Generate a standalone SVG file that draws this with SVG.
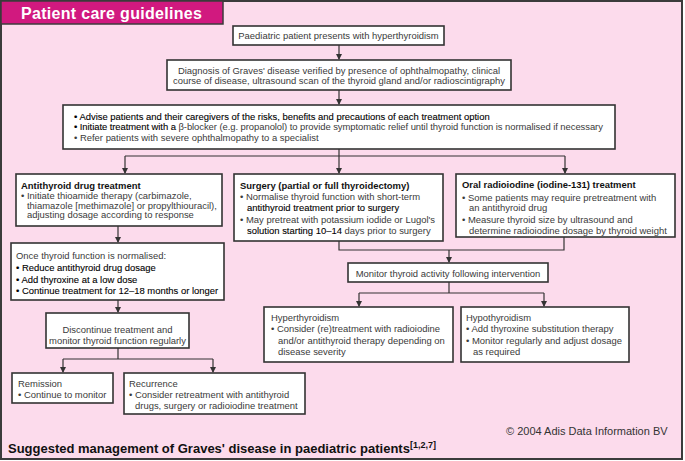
<svg xmlns="http://www.w3.org/2000/svg" width="685" height="461" viewBox="0 0 685 461">
<style>
text{font-family:"Liberation Sans",Arial,sans-serif;font-size:9.45px;fill:#3a3a3a}
.b{font-weight:bold;fill:#111}
.m{fill:#000;stroke:#000;stroke-width:0.1}
.c{text-anchor:middle}
.box{fill:#fff;stroke:#333;stroke-width:1.6}
.ln{fill:none;stroke:#333;stroke-width:1.2}
</style>
<defs>
<marker id="ah" markerUnits="userSpaceOnUse" markerWidth="6" markerHeight="6" refX="5" refY="3" orient="auto">
<path d="M0,0 L6,3 L0,6 Z" fill="#333"/>
</marker>
</defs>
<rect x="1" y="1" width="681" height="458" fill="#fcdbec" stroke="#3b3b3b" stroke-width="2"/>
<g id="title">
<rect x="1" y="1" width="222" height="23" fill="#d1197f" stroke="#3b3b3b" stroke-width="1.5"/>
<text x="21" y="18.5" style="font-size:16px;font-weight:bold;fill:#fff;letter-spacing:0.3px">Patient care guidelines</text>
</g>
<g id="connectors">
<path class="ln" d="M339,45 V59" marker-end="url(#ah)"/>
<path class="ln" d="M339,90 V104" marker-end="url(#ah)"/>
<path class="ln" d="M339,149 V173"  marker-end="url(#ah)"/>
<path class="ln" d="M125,156 H565"/>
<path class="ln" d="M125,156 V173" marker-end="url(#ah)"/>
<path class="ln" d="M565,156 V173" marker-end="url(#ah)"/>
<path class="ln" d="M118,226 V242" marker-end="url(#ah)"/>
<path class="ln" d="M339,241 V250 H564 V237"/>
<path class="ln" d="M449,250 V262" marker-end="url(#ah)"/>
<path class="ln" d="M449,282 V293"/>
<path class="ln" d="M359,293 H544"/>
<path class="ln" d="M359,293 V306" marker-end="url(#ah)"/>
<path class="ln" d="M544,293 V306" marker-end="url(#ah)"/>
<path class="ln" d="M118,300 V312" marker-end="url(#ah)"/>
<path class="ln" d="M118,348 V359"/>
<path class="ln" d="M63,359 H213"/>
<path class="ln" d="M63,359 V372" marker-end="url(#ah)"/>
<path class="ln" d="M213,359 V372" marker-end="url(#ah)"/>
</g>
<g id="n1">
<rect class="box" x="233" y="26" width="211" height="19"/>
<text class="c" x="338.5" y="39">Paediatric patient presents with hyperthyroidism</text>
</g>
<g id="n2">
<rect class="box" x="167" y="60" width="344" height="30"/>
<text class="c" x="339" y="73.5">Diagnosis of Graves' disease verified by presence of ophthalmopathy, clinical</text>
<text class="c" x="339" y="84">course of disease, ultrasound scan of the thyroid gland and/or radioscintigraphy</text>
</g>
<g id="n3">
<rect class="box" x="63" y="105" width="552" height="44"/>
<text x="74" y="119.5" class="m">• Advise patients and their caregivers of the risks, benefits and precautions of each treatment option</text>
<text x="74" y="130" style="letter-spacing:-0.06px"><tspan class="m">• Initiate treatment with a</tspan> β-blocker (e.g. propanolol) to provide symptomatic relief until thyroid function is normalised if necessary</text>
<text x="74" y="140.5">• Refer patients with severe ophthalmopathy to a specialist</text>
</g>
<g id="n4">
<rect class="box" x="16" y="174" width="206" height="52"/>
<text class="b" x="21" y="188.5">Antithyroid drug treatment</text>
<text x="21" y="199">• Initiate thioamide therapy (carbimazole,</text>
<text x="27" y="208.5">thiamazole [methimazole] or propylthiouracil),</text>
<text x="27" y="218">adjusting dosage according to response</text>
</g>
<g id="n5">
<rect class="box" x="234" y="174" width="209" height="67"/>
<text class="b" x="240" y="188.5">Surgery (partial or full thyroidectomy)</text>
<text x="240" y="200">• Normalise thyroid function with short-term</text>
<text x="247" y="211" class="m">antithyroid treatment prior to surgery</text>
<text x="240" y="222.5">• May pretreat with potassium iodide or Lugol's</text>
<text x="247" y="234"><tspan class="m">solution starting 10–14</tspan> days prior to surgery</text>
</g>
<g id="n6">
<rect class="box" x="456" y="174" width="219" height="63"/>
<text class="b" x="462" y="188">Oral radioiodine (iodine-131) treatment</text>
<text x="462" y="200.5">• Some patients may require pretreatment with</text>
<text x="469" y="211">an antithyroid drug</text>
<text x="462" y="222.5">• Measure thyroid size by ultrasound and</text>
<text x="469" y="233.5">determine radioiodine dosage by thyroid weight</text>
</g>
<g id="n7">
<rect class="box" x="11" y="243" width="213" height="57"/>
<text x="16" y="258.5">Once thyroid function is normalised:</text>
<text x="16" y="270.5" class="m">• Reduce antithyroid drug dosage</text>
<text x="16" y="282.5" class="m">• Add thyroxine at a low dose</text>
<text x="16" y="294" class="m">• Continue treatment for 12–18 months or longer</text>
</g>
<g id="n8">
<rect class="box" x="46" y="313" width="143" height="35"/>
<text class="c" x="117.5" y="332.5">Discontinue treatment and</text>
<text class="c" x="117.5" y="343.5">monitor thyroid function regularly</text>
</g>
<g id="n9">
<rect class="box" x="348" y="263" width="200" height="19"/>
<text class="c" x="448" y="276.5">Monitor thyroid activity following intervention</text>
</g>
<g id="n10">
<rect class="box" x="264" y="307" width="189" height="55"/>
<text x="271" y="321">Hyperthyroidism</text>
<text x="271" y="332">• Consider (re)treatment with radioiodine</text>
<text x="278" y="343.5">and/or antithyroid therapy depending on</text>
<text x="278" y="355">disease severity</text>
</g>
<g id="n11">
<rect class="box" x="461" y="307" width="168" height="55"/>
<text x="466" y="321">Hypothyroidism</text>
<text x="466" y="332">• Add thyroxine substitution therapy</text>
<text x="466" y="343.5">• Monitor regularly and adjust dosage</text>
<text x="473" y="355">as required</text>
</g>
<g id="n12">
<rect class="box" x="12" y="373" width="101" height="30"/>
<text x="18" y="387">Remission</text>
<text x="18" y="397.5">• Continue to monitor</text>
</g>
<g id="n13">
<rect class="box" x="124" y="373" width="181" height="41"/>
<text x="129" y="387">Recurrence</text>
<text x="129" y="397.5">• Consider retreatment with antithyroid</text>
<text x="135" y="408.5">drugs, surgery or radioiodine treatment</text>
</g>
<g id="footer">
<text x="506" y="435" style="font-size:11px;fill:#333">© 2004 Adis Data Information BV</text>
<text x="8" y="453" style="font-size:13px;font-weight:bold;fill:#111">Suggested management of Graves' disease in paediatric patients<tspan dy="-5" style="font-size:9px">[1,2,7]</tspan></text>
</g>
</svg>
